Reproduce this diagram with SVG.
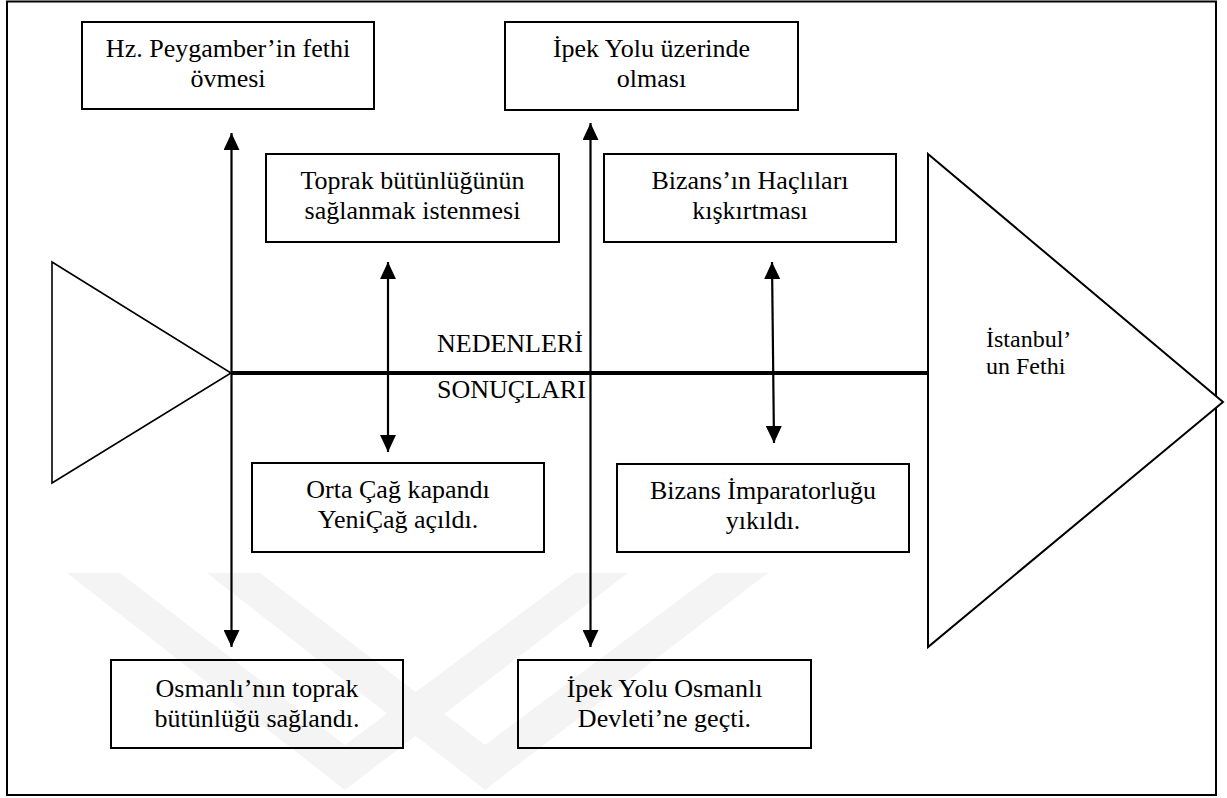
<svg xmlns="http://www.w3.org/2000/svg" width="1227" height="798" viewBox="0 0 1227 798">
<style>
.box{fill:none;stroke:#000;stroke-width:2}
.t{font-family:"Liberation Serif","Times New Roman",serif;font-size:26px;fill:#000;text-anchor:middle}
.lbl{font-family:"Liberation Serif","Times New Roman",serif;font-size:26px;fill:#000}
.conn{stroke:#000;stroke-width:2.2;fill:none;marker-start:url(#ah);marker-end:url(#ah)}
.wm{fill:#f4f4f4}
</style>
<defs>
<marker id="ah" markerUnits="userSpaceOnUse" markerWidth="17" markerHeight="16" refX="17" refY="8" orient="auto-start-reverse" viewBox="0 0 17 16">
<path d="M0,0 L17,8 L0,16 z" fill="#000"/>
</marker>
</defs>
<rect x="0" y="0" width="1227" height="798" fill="#fff"/>

<g id="watermark">
<polygon class="wm" points="67,573 120,573 345,745 575,573 628,573 345,790"/>
<polygon class="wm" points="207,573 260,573 485,745 715,573 768,573 485,790"/>
</g>

<rect x="7" y="1.5" width="1209" height="793.5" fill="none" stroke="#000" stroke-width="2"/>

<g id="tail">
<polygon points="52,262 231,373 52,483" fill="#fff" stroke="#000" stroke-width="1.6"/>
</g>
<g id="head">
<polygon points="928,154 1223,402 928,647" fill="#fff" stroke="#000" stroke-width="2"/>
<text class="lbl" style="font-size:24px" x="986" y="347">İstanbul’</text>
<text class="lbl" style="font-size:24px" x="986" y="374">un Fethi</text>
</g>

<g id="connectors">
<line x1="231" y1="373" x2="928" y2="373" stroke="#000" stroke-width="4"/>
<line class="conn" x1="231.5" y1="133" x2="231.5" y2="647"/>
<line class="conn" x1="590.5" y1="123" x2="590.5" y2="647"/>
<line class="conn" x1="388" y1="262" x2="388" y2="452"/>
<line class="conn" x1="772" y1="262" x2="774" y2="443"/>
</g>

<g id="spine-labels">
<text class="lbl" x="437" y="352">NEDENLERİ</text>
<text class="lbl" x="437" y="398">SONUÇLARI</text>
</g>

<g id="n1">
<rect class="box" x="82" y="22" width="292" height="87"/>
<text class="t" x="228" y="57">Hz. Peygamber’in fethi</text>
<text class="t" x="228" y="87">övmesi</text>
</g>
<g id="n2">
<rect class="box" x="505" y="22" width="293" height="88"/>
<text class="t" x="651.5" y="57">İpek Yolu üzerinde</text>
<text class="t" x="651.5" y="87">olması</text>
</g>
<g id="n3">
<rect class="box" x="266" y="154" width="293" height="88"/>
<text class="t" x="412.5" y="189">Toprak bütünlüğünün</text>
<text class="t" x="412.5" y="219">sağlanmak istenmesi</text>
</g>
<g id="n4">
<rect class="box" x="604" y="154" width="292" height="88"/>
<text class="t" x="750" y="189">Bizans’ın Haçlıları</text>
<text class="t" x="750" y="219">kışkırtması</text>
</g>
<g id="n5">
<rect class="box" x="252" y="463" width="292" height="89"/>
<text class="t" x="398" y="498">Orta Çağ kapandı</text>
<text class="t" x="398" y="528">YeniÇağ açıldı.</text>
</g>
<g id="n6">
<rect class="box" x="617" y="464" width="292" height="88"/>
<text class="t" x="763" y="499">Bizans İmparatorluğu</text>
<text class="t" x="763" y="529">yıkıldı.</text>
</g>
<g id="n7">
<rect class="box" x="111" y="660" width="292" height="88"/>
<text class="t" x="257" y="697">Osmanlı’nın toprak</text>
<text class="t" x="257" y="727">bütünlüğü sağlandı.</text>
</g>
<g id="n8">
<rect class="box" x="518" y="660" width="293" height="88"/>
<text class="t" x="664.5" y="697">İpek Yolu Osmanlı</text>
<text class="t" x="664.5" y="727">Devleti’ne geçti.</text>
</g>
</svg>
